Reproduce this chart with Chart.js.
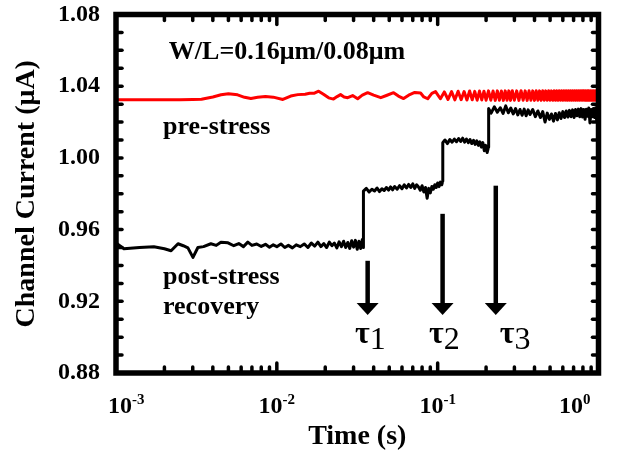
<!DOCTYPE html>
<html>
<head>
<meta charset="utf-8">
<script src="https://cdn.jsdelivr.net/npm/chart.js@4.4.1/dist/chart.umd.min.js"></script>
<style>
  body { margin: 0; background: #fff; }
  #wrap { width: 617px; height: 454px; }
</style>
</head>
<body>
<div id="wrap"><canvas id="grafico" width="617" height="454"></canvas></div>
<script>
// pre-stress (red)
const preTime = [0.001, 0.0015, 0.002, 0.0025, 0.003, 0.0034, 0.004, 0.0045, 0.005, 0.0057,
  0.0063, 0.0069, 0.0076, 0.0085, 0.0095, 0.0109, 0.0122, 0.0135, 0.015, 0.016,
  0.017, 0.0182, 0.0195, 0.021, 0.0225, 0.0237, 0.0249, 0.0262, 0.0276, 0.0296,
  0.0318, 0.034, 0.0367, 0.040, 0.0443, 0.048, 0.0532, 0.057, 0.0614, 0.066,
  0.072, 0.0783, 0.082, 0.0867, 0.092, 0.097,
  0.104, 0.110, 0.116, 0.122, 0.128, 0.134, 0.140, 0.146, 0.152, 0.158,
  0.164, 0.170, 0.176, 0.182, 0.188, 0.194, 0.200, 0.207, 0.214, 0.221,
  0.228, 0.235, 0.242, 0.249, 0.256, 0.263, 0.270, 0.277, 0.284, 0.291,
  0.30, 0.31, 0.32, 0.33, 0.34, 0.35, 0.36, 0.37, 0.38, 0.39,
  0.40, 0.41, 0.42, 0.43, 0.44, 0.45, 0.46, 0.47, 0.48, 0.49,
  0.50, 0.51, 0.52, 0.53, 0.54, 0.55, 0.56, 0.57, 0.58, 0.59,
  0.60, 0.61, 0.62, 0.63, 0.64, 0.65, 0.66, 0.67, 0.68, 0.69,
  0.70, 0.71, 0.72, 0.73, 0.74, 0.75, 0.76, 0.77, 0.78, 0.79,
  0.80, 0.81, 0.82, 0.83, 0.84, 0.85, 0.86, 0.87, 0.88, 0.89,
  0.90, 0.91, 0.92, 0.93, 0.94, 0.95, 0.96, 0.97, 0.98, 0.99, 1.00]
const preCurrent = [1.0325, 1.0325, 1.0324, 1.0325, 1.0326, 1.0327, 1.0340, 1.0352, 1.0358, 1.0352,
  1.0338, 1.0331, 1.0338, 1.0343, 1.0339, 1.0326, 1.0345, 1.0353, 1.0355, 1.0361,
  1.0360, 1.0372, 1.0355, 1.0335, 1.0328, 1.0342, 1.0353, 1.0340, 1.0336, 1.0348,
  1.0330, 1.0350, 1.0364, 1.0350, 1.0336, 1.0348, 1.0364, 1.0345, 1.0331, 1.0350,
  1.0365, 1.0362, 1.0340, 1.0330, 1.0360, 1.0370,
  1.0330, 1.0368, 1.0326, 1.0370, 1.0324, 1.0372, 1.0325, 1.0370, 1.0323, 1.0373,
  1.0324, 1.0371, 1.0322, 1.0373, 1.0323, 1.0372, 1.0322, 1.0374, 1.0322, 1.0373,
  1.0321, 1.0374, 1.0322, 1.0373, 1.0321, 1.0374, 1.0322, 1.0374, 1.0321, 1.0375,
  1.0322, 1.0374, 1.0321, 1.0375, 1.0322, 1.0374, 1.0321, 1.0375, 1.0322, 1.0374,
  1.0321, 1.0375, 1.0322, 1.0374, 1.0321, 1.0375, 1.0322, 1.0374, 1.0321, 1.0375,
  1.0322, 1.0374, 1.0321, 1.0375, 1.0322, 1.0374, 1.0321, 1.0375, 1.0322, 1.0374,
  1.0321, 1.0375, 1.0322, 1.0374, 1.0321, 1.0375, 1.0322, 1.0374, 1.0321, 1.0375,
  1.0322, 1.0374, 1.0321, 1.0375, 1.0322, 1.0374, 1.0321, 1.0375, 1.0322, 1.0374,
  1.0321, 1.0375, 1.0322, 1.0374, 1.0321, 1.0375, 1.0322, 1.0374, 1.0321, 1.0375,
  1.0322, 1.0374, 1.0321, 1.0375, 1.0322, 1.0374, 1.0321, 1.0375, 1.0322, 1.0374, 1.0372]

// post-stress recovery (black)
const postTime = [0.00100, 0.00112, 0.00140, 0.00172, 0.00200, 0.00220, 0.00243, 0.00262, 0.00280, 0.00301,
  0.00323, 0.00350, 0.00389, 0.00420, 0.00449, 0.00497, 0.00540, 0.00580, 0.00620, 0.00660,
  0.00700, 0.00750, 0.00800, 0.00850, 0.00900, 0.00950, 0.01000, 0.01060, 0.01120, 0.01180,
  0.01250, 0.01320, 0.01400, 0.01480, 0.01560, 0.01640, 0.01720, 0.01800, 0.01880, 0.01960,
  0.02040, 0.02120, 0.02200, 0.02280, 0.02360, 0.02440, 0.02520, 0.02600, 0.02680, 0.02760,
  0.02840, 0.02920, 0.03000, 0.03080, 0.03160, 0.03240, 0.03320, 0.03400, 0.03450,
  0.03455, 0.0360, 0.0375, 0.0390, 0.0405, 0.0420, 0.0435, 0.0450, 0.0465, 0.0480,
  0.0495, 0.0510, 0.0525, 0.0540, 0.0560, 0.0580, 0.0600, 0.0620, 0.0640, 0.0660,
  0.0680, 0.0700, 0.0720, 0.0740, 0.0760, 0.0780, 0.0800, 0.0820, 0.0840, 0.0860,
  0.0880, 0.0900, 0.0920, 0.0940, 0.0960, 0.0980, 0.1000, 0.1020, 0.1040, 0.1060, 0.1075,
  0.1076, 0.111, 0.115, 0.119, 0.123, 0.127, 0.131, 0.135, 0.139, 0.143,
  0.147, 0.151, 0.155, 0.159, 0.163, 0.167, 0.171, 0.175, 0.179, 0.183,
  0.187, 0.191, 0.195, 0.199, 0.203, 0.207,
  0.2075, 0.215, 0.225, 0.235, 0.245, 0.255, 0.265, 0.275, 0.285, 0.295,
  0.305, 0.315, 0.325, 0.335, 0.345, 0.355, 0.365, 0.375, 0.390, 0.405,
  0.420, 0.435, 0.450, 0.465, 0.480, 0.495, 0.510, 0.525, 0.540, 0.555,
  0.570, 0.585, 0.600, 0.615, 0.630, 0.645, 0.660, 0.675, 0.690, 0.705,
  0.720, 0.735, 0.750, 0.765, 0.780, 0.795, 0.810, 0.825, 0.840, 0.855,
  0.870, 0.885, 0.900, 0.915, 0.930, 0.945, 0.960, 0.975, 0.990, 1.000]
const postCurrent = [0.9526, 0.9493, 0.9500, 0.9504, 0.9493, 0.9482, 0.9521, 0.9510, 0.9498, 0.9445,
  0.9500, 0.9505, 0.9521, 0.9512, 0.9530, 0.9526, 0.9510, 0.9522, 0.9505, 0.9530,
  0.9512, 0.9520, 0.9506, 0.9518, 0.9502, 0.9515, 0.9505, 0.9520, 0.9500, 0.9512,
  0.9498, 0.9515, 0.9505, 0.9520, 0.9500, 0.9525, 0.9508, 0.9530, 0.9505, 0.9522,
  0.9500, 0.9530, 0.9510, 0.9525, 0.9498, 0.9532, 0.9505, 0.9535, 0.9500, 0.9528,
  0.9495, 0.9538, 0.9502, 0.9540, 0.9490, 0.9535, 0.9495, 0.9545, 0.9500,
  0.9815, 0.9830, 0.9810, 0.9825, 0.9815, 0.9832, 0.9812, 0.9828, 0.9818, 0.9835,
  0.9820, 0.9838, 0.9822, 0.9840, 0.9825, 0.9845, 0.9828, 0.9850, 0.9832, 0.9852,
  0.9835, 0.9855, 0.9830, 0.9850, 0.9838, 0.9820, 0.9845, 0.9810, 0.9835, 0.9775,
  0.9830, 0.9805, 0.9840, 0.9825, 0.9850, 0.9835, 0.9860, 0.9840, 0.9865, 0.9850, 0.9870,
  1.0085, 1.0100, 1.0080, 1.0102, 1.0088, 1.0105, 1.0090, 1.0108, 1.0092, 1.0110,
  1.0088, 1.0105, 1.0085, 1.0102, 1.0080, 1.0098, 1.0075, 1.0095, 1.0070, 1.0090,
  1.0060, 1.0085, 1.0040, 1.0070, 1.0030, 1.0060,
  1.0275, 1.0250, 1.0285, 1.0255, 1.0280, 1.0248, 1.0290, 1.0252, 1.0278, 1.0245,
  1.0275, 1.0240, 1.0270, 1.0238, 1.0272, 1.0235, 1.0268, 1.0242, 1.0270, 1.0230,
  1.0262, 1.0225, 1.0258, 1.0200, 1.0250, 1.0215, 1.0245, 1.0205, 1.0248, 1.0212,
  1.0252, 1.0220, 1.0258, 1.0225, 1.0262, 1.0228, 1.0265, 1.0230, 1.0268, 1.0225,
  1.0270, 1.0235, 1.0272, 1.0230, 1.0275, 1.0228, 1.0270, 1.0215, 1.0272, 1.0232,
  1.0278, 1.0195, 1.0270, 1.0230, 1.0275, 1.0225, 1.0280, 1.0205, 1.0270, 1.0240]

// setas tau
const arrowTime = [0.0367, 0.1073, 0.2298]
const arrowTop = [0.9426, 0.9688, 0.9845]
const arrowTip = 0.9124
const tauNames = ['1', '2', '3']

// eixos
const yTickLabels = ['0.88', '0.92', '0.96', '1.00', '1.04', '1.08']
const xTickValues = [0.001, 0.01, 0.1, 1]
const xTickExps = ['-3', '-2', '-1', '0']

const serif = 'Liberation Serif'

//? textos, setas, ticks para dentro e a moldura
const decoracao = {
    id: 'decoracao',
    afterDraw(chart) {
        const {ctx, chartArea: a, scales: {x, y}} = chart
        ctx.save()
        ctx.strokeStyle = '#000'
        ctx.fillStyle = '#000'

        function linha(x1, y1, x2, y2) {
            ctx.beginPath()
            ctx.moveTo(x1, y1)
            ctx.lineTo(x2, y2)
            ctx.stroke()
        }

        // ticks
        ctx.lineCap = 'round'
        ctx.lineWidth = 3.5
        y.ticks.forEach(t => {
            const py = y.getPixelForValue(t.value)
            linha(a.left, py, a.left + 6, py)
            linha(a.right, py, a.right - 6, py)
        })
        for (let i = 0; i < xTickValues.length; i++) {
            const ks = i < xTickValues.length - 1 ? [1, 2, 3, 4, 5, 6, 7, 8, 9] : [1]
            ks.forEach(k => {
                const px = x.getPixelForValue(xTickValues[i] * k)
                const len = k == 1 ? 10 : 6
                linha(px, a.bottom, px, a.bottom - len)
                linha(px, a.top, px, a.top + len)
            })
        }

        // moldura
        ctx.lineCap = 'butt'
        ctx.lineWidth = 5.5
        ctx.strokeRect(a.left, a.top, a.right - a.left, a.bottom - a.top)

        // labels do eixo x (10 elevado)
        ctx.textBaseline = 'alphabetic'
        ctx.textAlign = 'left'
        for (let i = 0; i < xTickValues.length; i++) {
            ctx.font = `bold 24px "${serif}"`
            const wBase = ctx.measureText('10').width
            ctx.font = `bold 15px "${serif}"`
            const wExp = ctx.measureText(xTickExps[i]).width
            let left = x.getPixelForValue(xTickValues[i]) - (wBase + wExp) / 2
            left = Math.max(left, a.left - 8)
            left = Math.min(left, a.right - 8 - wBase - wExp)
            ctx.font = `bold 24px "${serif}"`
            ctx.fillText('10', left, a.bottom + 40)
            ctx.font = `bold 15px "${serif}"`
            ctx.fillText(xTickExps[i], left + wBase, a.bottom + 31)
        }

        // setas
        ctx.lineWidth = 4.5
        for (let i = 0; i < arrowTime.length; i++) {
            const px = x.getPixelForValue(arrowTime[i])
            const top = y.getPixelForValue(arrowTop[i])
            const tip = y.getPixelForValue(arrowTip)
            linha(px, top, px, tip - 10)
            ctx.beginPath()
            ctx.moveTo(px - 11, tip - 12)
            ctx.lineTo(px + 11, tip - 12)
            ctx.lineTo(px, tip)
            ctx.closePath()
            ctx.fill()
        }

        // tau
        const tauPos = [0.0381, 0.110, 0.303]
        for (let i = 0; i < tauNames.length; i++) {
            ctx.font = `bold 32px "${serif}"`
            const wt = ctx.measureText('τ').width
            ctx.font = `32px "${serif}"`
            const wn = ctx.measureText(tauNames[i]).width
            const left = x.getPixelForValue(tauPos[i]) - (wt + wn) / 2
            const base = y.getPixelForValue(0.8968)
            ctx.font = `bold 32px "${serif}"`
            ctx.fillText('τ', left, base)
            ctx.font = `32px "${serif}"`
            ctx.fillText(tauNames[i], left + wt, base + 6)
        }

        // textos
        const textos = [
            {txt: 'W/L=0.16μm/0.08μm', t: 0.00213, v: 1.0554},
            {txt: 'pre-stress', t: 0.00196, v: 1.0135},
            {txt: 'post-stress', t: 0.00196, v: 0.9297},
            {txt: 'recovery', t: 0.00196, v: 0.9130}
        ]
        ctx.font = `bold 26px "${serif}"`
        textos.forEach(o => {
            ctx.fillText(o.txt, x.getPixelForValue(o.t), y.getPixelForValue(o.v))
        })
        ctx.restore()
    }
}

function GraficoCorrente() {
    const pre = preTime.map((t, i) => ({x: t, y: preCurrent[i]}))
    const post = postTime.map((t, i) => ({x: t, y: postCurrent[i]}))

    const ctx = document.getElementById('grafico').getContext('2d')
    new Chart(ctx, {
        type: 'line',
        data: {
            datasets: [{
                label: 'pre-stress',
                data: pre,
                borderColor: '#ff0000',
                borderWidth: 3,
                borderJoinStyle: 'round',
                borderCapStyle: 'round',
                pointRadius: 0,
                tension: 0,
                order: 0
            }, {
                label: 'post-stress recovery',
                data: post,
                borderColor: '#000000',
                borderWidth: 3,
                borderJoinStyle: 'round',
                borderCapStyle: 'round',
                pointRadius: 0,
                tension: 0,
                order: 1
            }]
        },
        options: {
            responsive: false,
            animation: false,
            layout: { padding: { top: 14.5, right: 18.5, left: 0, bottom: 0 } },
            plugins: {
                legend: { display: false },
                tooltip: { enabled: false }
            },
            scales: {
                x: {
                    type: 'logarithmic',
                    min: 0.001,
                    max: 1,
                    grid: { display: false, drawTicks: false },
                    border: { display: false },
                    ticks: { display: false },
                    title: {
                        display: true,
                        text: 'Time (s)',
                        color: '#000',
                        font: { family: serif, size: 28, weight: 'bold' },
                        padding: { top: 0, bottom: 0 }
                    },
                    afterFit(scale) {
                        scale.height = 81
                        scale.paddingLeft = 0
                        scale.paddingRight = 0
                    }
                },
                y: {
                    min: 0.88,
                    max: 1.08,
                    grid: { display: false, drawTicks: false },
                    border: { display: false },
                    ticks: {
                        stepSize: 0.01,
                        autoSkip: false,
                        padding: 16,
                        color: '#000',
                        font: { family: serif, size: 24, weight: 'bold' },
                        callback: (value) => yTickLabels.find(l => Math.abs(parseFloat(l) - value) < 1e-6) || ''
                    },
                    title: {
                        display: true,
                        text: 'Channel Current (μA)',
                        color: '#000',
                        font: { family: serif, size: 28, weight: 'bold' },
                        padding: { top: 10, bottom: 0 }
                    },
                    afterFit(scale) {
                        scale.width = 116
                        scale.paddingTop = 0
                        scale.paddingBottom = 0
                    }
                }
            }
        },
        plugins: [decoracao]
    })
} GraficoCorrente()
</script>
</body>
</html>
